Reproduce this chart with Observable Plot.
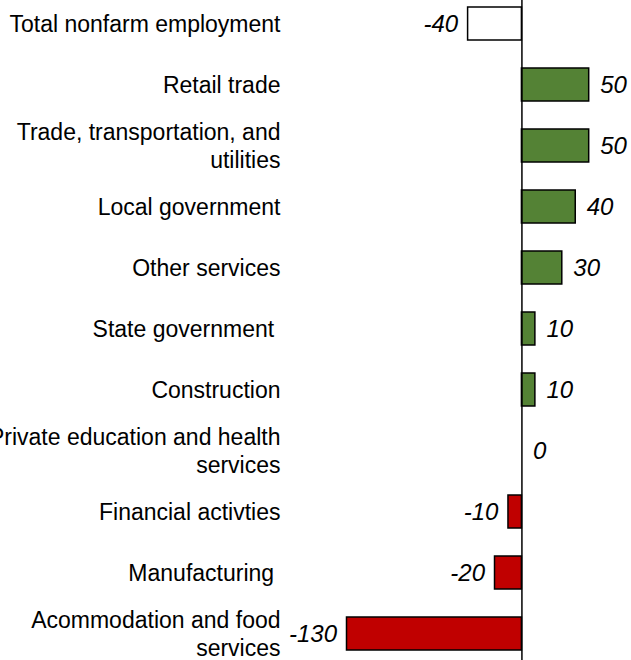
<!DOCTYPE html>
<html>
<head>
<meta charset="utf-8">
<script src="https://cdn.jsdelivr.net/npm/d3@7"></script>
<script src="https://cdn.jsdelivr.net/npm/@observablehq/plot@0.6"></script>
<style>
  html, body { margin: 0; padding: 0; background: #fff; }
  #chart svg { display: block; overflow: visible; }
</style>
</head>
<body>
<div id="chart"></div>
<script>
const categories = [
  "Total nonfarm employment",
  "Retail trade",
  "Trade, transportation, and\nutilities",
  "Local government",
  "Other services",
  "State government\u00a0",
  "Construction",
  "Private education and health\nservices",
  "Financial activties",
  "Manufacturing\u00a0",
  "Acommodation and food\nservices"
];
const values = [-40, 50, 50, 40, 30, 10, 10, 0, -10, -20, -130];

const data = categories.map((c, i) => ({category: c, value: values[i], total: i === 0}));

const fillFor = d => d.total ? "white" : (d.value >= 0 ? "#548235" : "#C00000");

const chart = Plot.plot({
  width: 631,
  height: 660,
  marginTop: 0,
  marginBottom: 0,
  marginLeft: 346.5,
  marginRight: 42.3,
  x: {domain: [-130, 50], axis: null},
  y: {domain: categories, range: [5, 651], paddingInner: 0.46, paddingOuter: 0, axis: null},
  style: {fontFamily: "'Liberation Sans', Arial, sans-serif", fontSize: "23px", color: "#000", background: "white"},
  marks: [
    Plot.barX(data, {x: "value", y: "category", fill: fillFor, stroke: "black", strokeWidth: 1.5}),
    Plot.ruleX([0], {stroke: "black", strokeWidth: 1.5}),
    Plot.text(data, {filter: d => d.value >= 0, x: "value", y: "category", text: d => String(d.value),
      textAnchor: "start", dx: 11, fontStyle: "italic", fontSize: 24, fill: "black"}),
    Plot.text(data, {filter: d => d.value < 0, x: "value", y: "category", text: d => String(d.value),
      textAnchor: "end", dx: -10, fontStyle: "italic", fontSize: 24, fill: "black"}),
    Plot.axisY({anchor: "left", tickSize: 0, tickPadding: 66.5, fontSize: 23, lineHeight: 1.2, dy: -1, label: null, fill: "black"})
  ]
});
document.getElementById("chart").appendChild(chart);
</script>
</body>
</html>
